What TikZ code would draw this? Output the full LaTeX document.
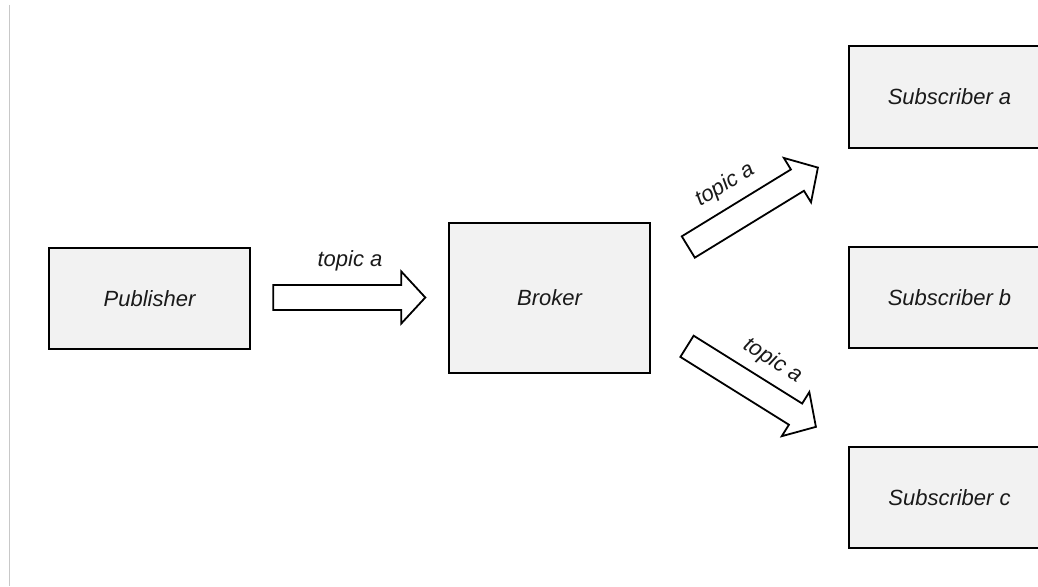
\documentclass[tikz,border=0pt]{standalone}
\usepackage{fontspec}
\setmainfont{Liberation Sans}
\definecolor{boxfill}{HTML}{F2F2F2}
\definecolor{txt}{HTML}{1A1A1A}
\definecolor{rule}{HTML}{C8C8C8}
\tikzset{
  blockbox/.style={draw=black, line width=2pt, fill=boxfill, inner sep=0pt,
    minimum width=201pt, minimum height=101pt, text=txt,
    font=\fontsize{22}{26}\selectfont\itshape},
  blockarrow/.style={draw=black, line width=1.8pt, fill=white, line join=miter},
  arrowlabel/.style={text=txt, inner sep=0pt, font=\fontsize{22}{26}\selectfont\itshape}
}
\newcommand{\fatarrow}[3]{%
  \begin{scope}[shift={(#1,#2)}, rotate=#3]
    \draw[blockarrow] (0,12.5) -- (128,12.5) -- (128,26) -- (152,0) -- (128,-26)
      -- (128,-12.5) -- (0,-12.5) -- cycle;
  \end{scope}}
\begin{document}
\begin{tikzpicture}[x=1pt,y=-1pt]
  \clip (0,0) rectangle (1038,586);
  \fill[white] (0,0) rectangle (1038,586);
  \coordinate (rtop) at (9.5,5);
  \coordinate (rbot) at (9.5,586);
  \draw[rule, line width=1.3pt] (rtop) -- (rbot);

  \node[blockbox] (pub) at (149.5,298.5) {Publisher};
  \node[blockbox, minimum height=150pt] (broker) at (549.5,297.5) {Broker};
  \node[blockbox] (suba) at (949.5,97) {Subscriber a};
  \node[blockbox] (subb) at (949.5,297.5) {Subscriber b};
  \node[blockbox] (subc) at (949.5,497.5) {Subscriber c};

  \fatarrow{273.3}{297.5}{0}
  \fatarrow{688.3}{247}{31.5}
  \fatarrow{687}{346.3}{-32}

  \node[arrowlabel] (l1) at (350,260.4) {topic a};
  \node[arrowlabel, rotate=31.5] (l2) at (725,185) {topic a};
  \node[arrowlabel, rotate=-32] (l3) at (772.5,361) {topic a};
\end{tikzpicture}
\end{document}
